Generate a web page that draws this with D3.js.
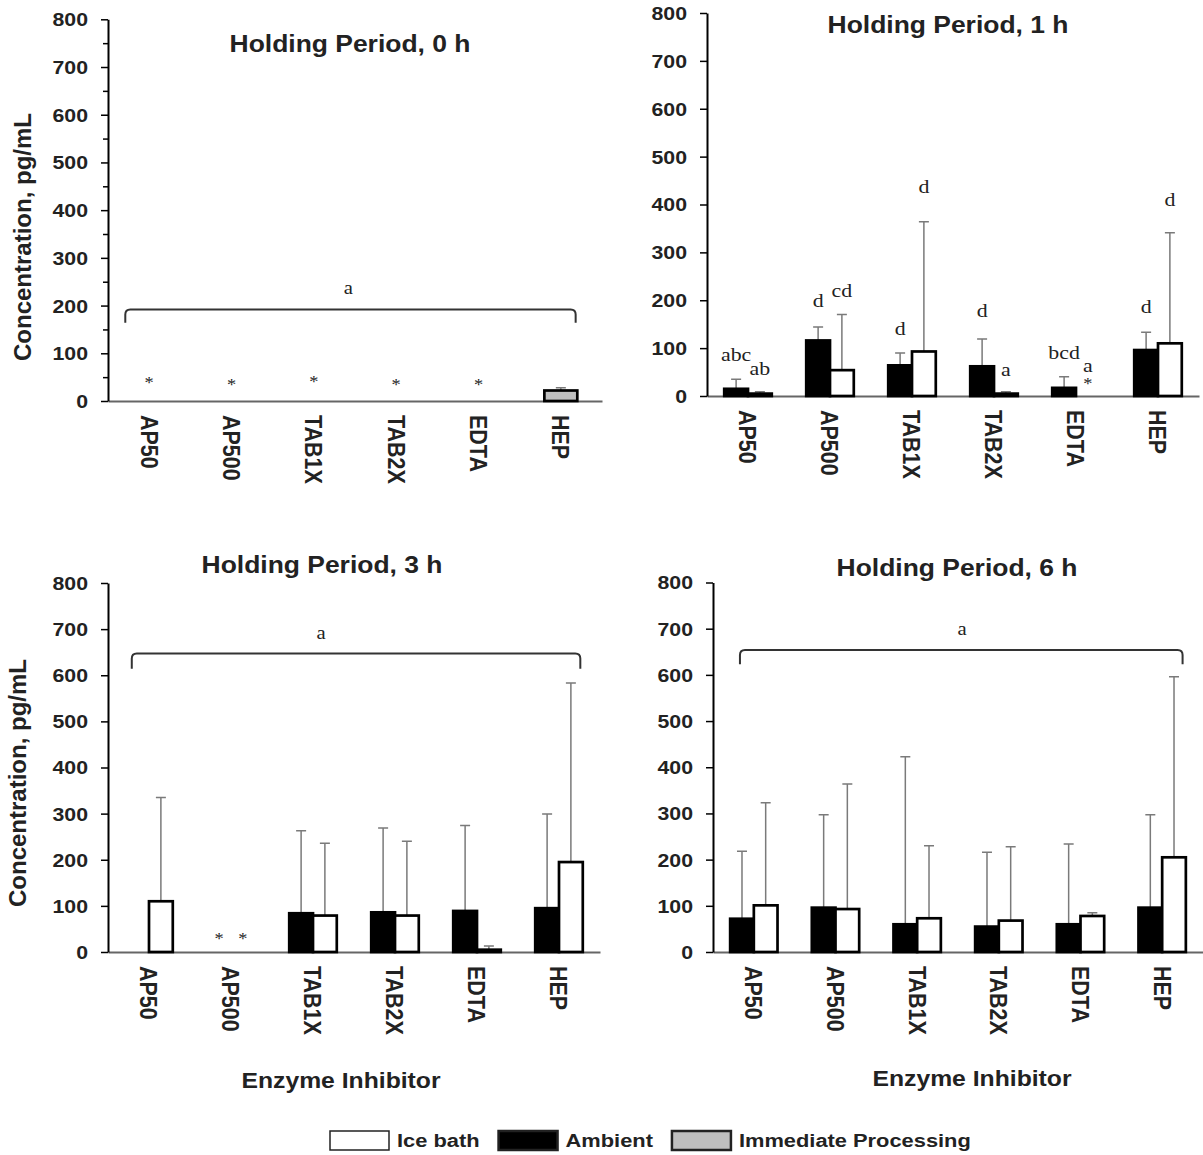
<!DOCTYPE html>
<html>
<head>
<meta charset="UTF-8">
<title>Holding Period</title>
<style>
    body { margin: 0; background: white; }
    svg text { font-family: "Liberation Sans", Arial, sans-serif; fill: #222; }
</style>
</head>
<body>
<svg width="1203" height="1155"></svg>
<script src="https://d3js.org/d3.v7.min.js"></script>
<script>
    let categories = ["AP50", "AP500", "TAB1X", "TAB2X", "EDTA", "HEP"];
    let yTicks = [0, 100, 200, 300, 400, 500, 600, 700, 800];
    let yMinorTicks = [50, 150, 250, 350, 450, 550, 650, 750];

    // 0 h
    let immediate0 = [null, null, null, null, null, 22];
    let immediate0Err = [null, null, null, null, null, 28];
    let star0 = [42, 39, 46, 39, 39, null];
    let bracket0 = [192, 164];

    // 1 h
    let ambient1 = [15, 116, 64, 62, 17, 96];
    let ambient1Err = [35, 144, 90, 119, 40, 133];
    let ice1 = [5, 54, 93, 5, null, 110];
    let ice1Err = [9, 170, 364, 9, null, 341];
    let ambient1Letters = ["abc", "d", "d", "d", "bcd", "d"];
    let ambient1LetterAt = [87, 200, 140, 179, 91, 186];
    let ice1Letters = ["ab", "cd", "d", "a", "a", "d"];
    let ice1LetterAt = [58, 221, 438, 56, 64, 410];
    let ice1Star = [null, null, null, null, 30, null];

    // 3 h
    let ambient3 = [null, null, 84, 86, 89, 95];
    let ambient3Err = [null, null, 263, 269, 274, 299];
    let ice3 = [110, null, 79, 79, 5, 195];
    let ice3Err = [335, null, 236, 240, 13, 583];
    let ambient3Star = [null, 33, null, null, null, null];
    let ice3Star = [null, 33, null, null, null, null];
    let bracket3 = [647, 614];

    // 6 h
    let ambient6 = [72, 96, 60, 55, 60, 96];
    let ambient6Err = [218, 297, 423, 216, 234, 297];
    let ice6 = [101, 93, 73, 68, 78, 205];
    let ice6Err = [323, 364, 230, 228, 85, 596];
    let bracket6 = [654, 623];

    let legendLabels = ["Ice bath", "Ambient", "Immediate Processing"];
    let legendKinds = ["ice", "ambient", "immediate"];

    let fills = { ambient: "#000", ice: "#fff", immediate: "#bfbfbf" };
    const SX = 1.15; // text in the figure is slightly wide

    let svg = d3.select("svg");

    function place(sel, x, y, rot) {
        sel.attr("transform", "translate(" + x + "," + y + ") scale(" + SX + ",1)" + (rot ? " rotate(" + rot + ")" : ""));
    }

    let panels = [
        {
            title: "Holding Period, 0 h", x0: 108, x1: 602, yZero: 401, yTop: 19.3, minor: true,
            titleX: 350, titleY: 52, yTitle: [31, 237], bracket: bracket0, bracketSpan: [-0.29, 0.18], bracketLabel: 2.92,
            series: [{ kind: "immediate", vals: immediate0, errs: immediate0Err, stars: star0 }]
        },
        {
            title: "Holding Period, 1 h", x0: 707, x1: 1199, yZero: 396, yTop: 13,
            titleX: 948, titleY: 33,
            series: [
                { kind: "ambient", vals: ambient1, errs: ambient1Err, letters: ambient1Letters, letterAt: ambient1LetterAt },
                { kind: "ice", vals: ice1, errs: ice1Err, letters: ice1Letters, letterAt: ice1LetterAt, stars: ice1Star }
            ]
        },
        {
            title: "Holding Period, 3 h", x0: 108, x1: 600, yZero: 952, yTop: 583,
            titleX: 322, titleY: 573, yTitle: [26, 783], xTitle: [341, 1088],
            bracket: bracket3, bracketSpan: [-0.21, 0.26], bracketLabel: 2.6,
            series: [
                { kind: "ambient", vals: ambient3, errs: ambient3Err, stars: ambient3Star },
                { kind: "ice", vals: ice3, errs: ice3Err, stars: ice3Star }
            ]
        },
        {
            title: "Holding Period, 6 h", x0: 713, x1: 1203, yZero: 952, yTop: 582.5,
            titleX: 957, titleY: 576, xTitle: [972, 1086],
            bracket: bracket6, bracketSpan: [-0.17, 0.25], bracketLabel: 3.05,
            series: [
                { kind: "ambient", vals: ambient6, errs: ambient6Err },
                { kind: "ice", vals: ice6, errs: ice6Err }
            ]
        }
    ];

    panels.forEach(p => {
        let g = svg.append("g");
        let x = d3.scaleBand().domain(categories).range([p.x0, p.x1]);
        let y = d3.scaleLinear().domain([0, 800]).range([p.yZero, p.yTop]);
        let band = x.bandwidth();

        // x axis
        let xa = g.append("g")
            .attr("transform", "translate(0," + p.yZero + ")")
            .call(d3.axisBottom(x).tickSize(0).tickSizeOuter(0));
        xa.select(".domain").attr("stroke", "#666").attr("stroke-width", 2);
        xa.selectAll("text")
            .attr("y", null).attr("dy", null)
            .attr("text-anchor", "start")
            .attr("dominant-baseline", "central")
            .style("font-size", "21.5px").style("font-weight", "bold")
            .each(function () { place(d3.select(this), 0, 14, 90); });

        // y axis
        if (p.minor) {
            let ym = g.append("g")
                .attr("transform", "translate(" + p.x0 + ",0)")
                .call(d3.axisLeft(y).tickValues(yMinorTicks).tickSize(5).tickFormat(""));
            ym.select(".domain").remove();
            ym.selectAll("line").attr("stroke", "#000").attr("stroke-width", 1.5);
        }
        let ya = g.append("g")
            .attr("transform", "translate(" + p.x0 + ",0)")
            .call(d3.axisLeft(y).tickValues(yTicks).tickSize(7).tickSizeOuter(0));
        ya.select(".domain").attr("stroke", "#000").attr("stroke-width", 2);
        ya.selectAll("line").attr("stroke", "#000").attr("stroke-width", 1.5);
        ya.selectAll("text")
            .attr("x", null).attr("dy", null)
            .attr("text-anchor", "end")
            .attr("dominant-baseline", "central")
            .style("font-size", "18.5px").style("font-weight", "bold")
            .each(function () { place(d3.select(this), -20, 0); });

        // title
        g.append("text")
            .attr("text-anchor", "middle")
            .style("font-size", "23px").style("font-weight", "bold")
            .text(p.title)
            .call(s => place(s, p.titleX, p.titleY));

        if (p.yTitle) {
            g.append("text")
                .attr("text-anchor", "middle")
                .attr("transform", "translate(" + p.yTitle[0] + "," + p.yTitle[1] + ") rotate(-90)")
                .style("font-size", "24px").style("font-weight", "bold")
                .text("Concentration, pg/mL");
        }
        if (p.xTitle) {
            g.append("text")
                .attr("text-anchor", "middle")
                .style("font-size", "21.5px").style("font-weight", "bold")
                .text("Enzyme Inhibitor")
                .call(s => place(s, p.xTitle[0], p.xTitle[1]));
        }

        // bracket over all groups
        if (p.bracket) {
            let xl = x(categories[0]) + band / 2 + p.bracketSpan[0] * band;
            let xr = x(categories[categories.length - 1]) + band / 2 + p.bracketSpan[1] * band;
            let yb = y(p.bracket[0]), yd = y(p.bracket[1]), r = 5;
            g.append("path")
                .attr("d", "M" + xl + "," + yd + "V" + (yb + r) + "Q" + xl + "," + yb + " " + (xl + r) + "," + yb +
                    "H" + (xr - r) + "Q" + xr + "," + yb + " " + xr + "," + (yb + r) + "V" + yd)
                .attr("fill", "none").attr("stroke", "#333").attr("stroke-width", 2);
            g.append("text")
                .attr("text-anchor", "middle")
                .attr("dominant-baseline", "central")
                .style("font-family", "'Liberation Serif', serif").style("font-size", "18px")
                .text("a")
                .call(s => place(s, p.x0 + p.bracketLabel * band, y(p.bracket[0]) - 21));
        }

        // bars, error bars, letters
        p.series.forEach(s => {
            let bw = band * (s.kind == "immediate" ? 0.4 : 0.29);
            let off = s.kind == "ambient" ? -bw / 2 : s.kind == "ice" ? bw / 2 : 0;
            let cx = d => x(d.c) + band / 2 + off;
            let rows = categories.map((c, i) => ({
                c: c, v: s.vals[i], e: s.errs ? s.errs[i] : null,
                l: s.letters ? s.letters[i] : null, la: s.letterAt ? s.letterAt[i] : null,
                st: s.stars ? s.stars[i] : null
            }));
            let barRows = rows.filter(d => d.v != null);

            g.append("g").selectAll("path")
                .data(barRows.filter(d => d.e != null))
                .join("path")
                .attr("d", d => "M" + cx(d) + "," + y(d.v) + "V" + y(d.e) + "M" + (cx(d) - 5) + "," + y(d.e) + "H" + (cx(d) + 5))
                .attr("fill", "none")
                .attr("stroke", "#7a7a7a")
                .attr("stroke-width", 1.5);

            g.append("g").selectAll("rect")
                .data(barRows)
                .join("rect")
                .attr("x", d => cx(d) - bw / 2)
                .attr("y", d => y(d.v))
                .attr("width", bw)
                .attr("height", d => y(0) - y(d.v))
                .attr("fill", fills[s.kind])
                .attr("stroke", "#000")
                .attr("stroke-width", 2.7);

            g.append("g").selectAll("text")
                .data(rows.filter(d => d.l))
                .join("text")
                .attr("text-anchor", "middle")
                .attr("dominant-baseline", "central")
                .style("font-family", "'Liberation Serif', serif").style("font-size", "19px")
                .text(d => d.l)
                .each(function (d) { place(d3.select(this), cx(d), y(d.la)); });

            g.append("g").selectAll("text")
                .data(rows.filter(d => d.st != null))
                .join("text")
                .attr("text-anchor", "middle")
                .attr("dy", "0.47em")
                .style("font-family", "'Liberation Serif', serif").style("font-size", "16px")
                .text("*")
                .each(function (d) { place(d3.select(this), cx(d), y(d.st)); });
        });
    });

    // legend
    let legend = svg.append("g");
    let lx = 330;
    legendLabels.forEach((lab, i) => {
        let kind = legendKinds[i];
        legend.append("rect")
            .attr("x", lx).attr("y", 1131)
            .attr("width", 59).attr("height", 19)
            .attr("fill", fills[kind])
            .attr("stroke", "#222")
            .attr("stroke-width", kind == "ice" ? 1.5 : 2.5);
        let t = legend.append("text")
            .style("font-size", "19px").style("font-weight", "bold")
            .text(lab)
            .call(s => place(s, lx + 67, 1147));
        lx += 67 + t.node().getComputedTextLength() * SX + 19;
    });
</script>
</body>
</html>
